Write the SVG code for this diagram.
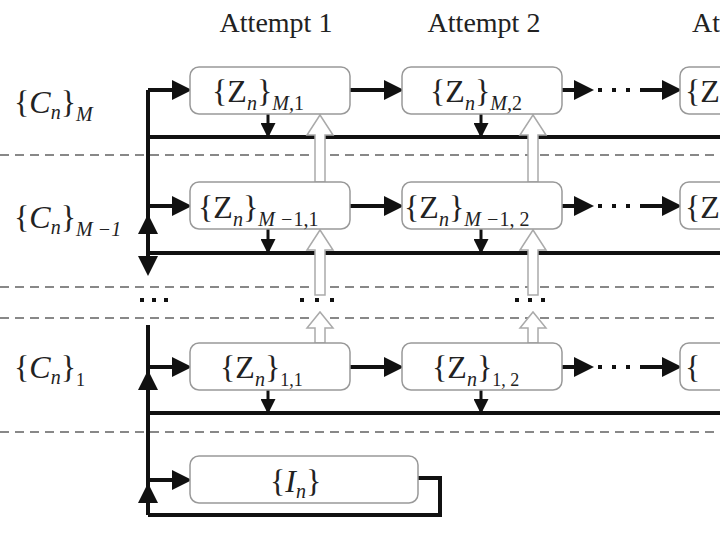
<svg xmlns="http://www.w3.org/2000/svg" width="720" height="540" viewBox="0 0 720 540">
<style>
text{font-family:"Liberation Serif","DejaVu Serif",serif;fill:#222}
.t{font-size:32px}
.s{font-size:20px;font-style:italic}
.i{font-style:italic}
.box{fill:#fff;stroke:#999;stroke-width:1.5}
.th{stroke:#111;stroke-width:4;fill:none}
.ar{stroke:#111;stroke-width:4;fill:none;marker-end:url(#a)}
.ad{stroke:#111;stroke-width:3;fill:none;marker-end:url(#a)}
.dash{stroke:#888;stroke-width:2;stroke-dasharray:9,6;fill:none}
.hol{fill:#fff;stroke:#aaa;stroke-width:1.5}
</style>
<defs>
<marker id="a" markerWidth="5" markerHeight="5" refX="4" refY="2.5" orient="auto" markerUnits="strokeWidth"><path d="M0,0L5,2.5L0,5z" fill="#111"/></marker>
</defs>
<text x="276" y="32" text-anchor="middle" style="font-size:28px">Attempt 1</text>
<text x="484" y="32" text-anchor="middle" style="font-size:28px">Attempt 2</text>
<text x="692" y="32" style="font-size:28px">At</text>
<g id="labels">
<text x="14" y="113" class="t">{<tspan class="i">C</tspan><tspan class="s" dy="6">n</tspan><tspan dy="-6">}</tspan><tspan class="s" dy="8">M</tspan></text>
<text x="14" y="228" class="t">{<tspan class="i">C</tspan><tspan class="s" dy="6">n</tspan><tspan dy="-6">}</tspan><tspan class="s" dy="8">M −1</tspan></text>
<text x="14" y="378" class="t">{<tspan class="i">C</tspan><tspan class="s" dy="6">n</tspan><tspan dy="-6">}</tspan><tspan style="font-size:18px" dy="8">1</tspan></text>
</g>
<g id="dashes">
<path class="dash" d="M0,155H720M0,287H720M0,318H720M0,432H720"/>
</g>
<g id="connectors">
<path class="th" d="M148,90V255M148,325V515M148,137H720M148,253H720M148,413H720"/>
<path class="ar" d="M148,90H188"/><path class="ar" d="M148,206H188"/><path class="ar" d="M148,367H188"/><path class="ar" d="M148,480H188"/>
<path class="ar" d="M350,90H400"/><path class="ar" d="M350,206H400"/><path class="ar" d="M350,367H400"/>
<path class="ar" d="M562,90H590"/><path class="ar" d="M562,206H590"/><path class="ar" d="M562,367H590"/>
<path class="ar" d="M640,90H678"/><path class="ar" d="M640,206H678"/><path class="ar" d="M640,367H678"/>
<path d="M598,90h4M612,90h4M626,90h4M598,206h4M612,206h4M626,206h4M598,367h4M612,367h4M626,367h4" stroke="#111" stroke-width="4"/>
<path class="ad" d="M268,114V135"/><path class="ad" d="M481,114V135"/><path class="ad" d="M268,229V251"/><path class="ad" d="M481,229V251"/><path class="ad" d="M268,390V411"/><path class="ad" d="M481,390V411"/>
<path class="ar" d="M148,245V218"/>
<path class="ar" d="M148,255V272"/>
<path class="ar" d="M148,400V374"/>
<path class="ar" d="M148,510V487"/>
<path class="th" d="M418,478H440V515H148"/>
<path d="M140,300h4M152,300h4M164,300h4M300,300h4M315,300h4M330,300h4M515,300h4M528,300h4M541,300h4" stroke="#111" stroke-width="4"/>
</g>
<g id="hollow">
<path class="hol" d="M315,182V135H307L320,115L333,135H325V182Z"/>
<path class="hol" d="M528,182V135H520L533,115L546,135H538V182Z"/>
<path class="hol" d="M315,295V250H307L320,230L333,250H325V295Z"/>
<path class="hol" d="M528,295V250H520L533,230L546,250H538V295Z"/>
<path class="hol" d="M315,343V328H307L320,312L333,328H325V343Z"/>
<path class="hol" d="M528,343V328H520L533,312L546,328H538V343Z"/>
</g>
<g id="nodes">
<g id="zM1"><rect class="box" x="190" y="67" width="160" height="47" rx="9"/><text x="212" y="102" class="t">{Z<tspan class="s" dy="8">n</tspan><tspan dy="-8">}</tspan><tspan class="s" dy="8">M,</tspan><tspan style="font-size:20px">1</tspan></text></g>
<g id="zM2"><rect class="box" x="402" y="67" width="160" height="47" rx="9"/><text x="430" y="102" class="t">{Z<tspan class="s" dy="8">n</tspan><tspan dy="-8">}</tspan><tspan class="s" dy="8">M,</tspan><tspan style="font-size:20px">2</tspan></text></g>
<g id="zM3"><rect class="box" x="680" y="67" width="60" height="47" rx="9"/><text x="685" y="102" class="t">{Z</text></g>
<g id="zm11"><rect class="box" x="190" y="182" width="160" height="47" rx="9"/><text x="198" y="218" class="t">{Z<tspan class="s" dy="8">n</tspan><tspan dy="-8">}</tspan><tspan class="s" dy="8">M −</tspan><tspan style="font-size:20px">1,1</tspan></text></g>
<g id="zm12"><rect class="box" x="402" y="182" width="160" height="47" rx="9"/><text x="404" y="218" class="t">{Z<tspan class="s" dy="8">n</tspan><tspan dy="-8">}</tspan><tspan class="s" dy="8">M −</tspan><tspan style="font-size:20px">1, 2</tspan></text></g>
<g id="zm13"><rect class="box" x="680" y="182" width="60" height="47" rx="9"/><text x="685" y="218" class="t">{Z</text></g>
<g id="z11"><rect class="box" x="190" y="343" width="160" height="47" rx="9"/><text x="220" y="378" class="t">{Z<tspan class="s" dy="8">n</tspan><tspan dy="-8">}</tspan><tspan style="font-size:18px" dy="8">1,1</tspan></text></g>
<g id="z12"><rect class="box" x="402" y="343" width="160" height="47" rx="9"/><text x="432" y="378" class="t">{Z<tspan class="s" dy="8">n</tspan><tspan dy="-8">}</tspan><tspan style="font-size:18px" dy="8">1, 2</tspan></text></g>
<g id="z13"><rect class="box" x="680" y="343" width="60" height="47" rx="9"/><text x="685" y="378" class="t">{</text></g>
<g id="In"><rect class="box" x="190" y="456" width="228" height="47" rx="9"/><text x="270" y="492" class="t">{<tspan class="i">I</tspan><tspan class="s" dy="6">n</tspan><tspan dy="-6">}</tspan></text></g>
</g>
</svg>
